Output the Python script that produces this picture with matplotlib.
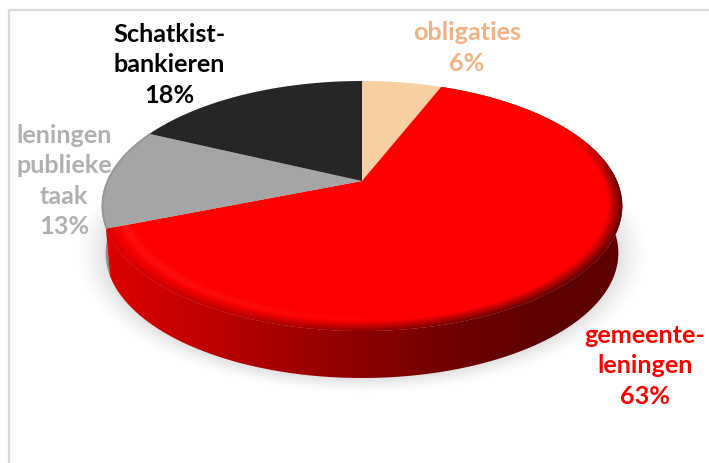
import numpy as np
import matplotlib
matplotlib.use("Agg")
import matplotlib.pyplot as plt
from matplotlib.patches import Polygon

# data
names = ["obligaties", "gemeente-\nleningen", "leningen\npublieke\ntaak", "Schatkist-\nbankieren"]
values = [6, 63, 13, 18]
colors = ["#f8cfa2", "#ff0000", "#a5a5a5", "#262626"]
label_colors = ["#f4b183", "#ff0000", "#b0b0b0", "#000000"]
label_pos = [(467, 48), (645, 366), (64, 181), (169, 65)]

# side colour of the red slice, left to right
side_x = [105, 250, 360, 470, 560, 625]
side_r = [0.87, 0.69, 0.55, 0.42, 0.36, 0.38]

# pie geometry in pixels, apex is above the ellipse centre because of perspective
cx, cy = 362, 182
A, B, k = 255, 120, 0.2
depth = 47
W, H = 709, 464


def project(theta, r=1.0):
    # theta clockwise from top
    u = r * np.sin(theta)
    v = r * np.cos(theta)
    w = 1 + k * v
    return cx + A * u / w, cy - B * v / w


def unproject(X, Y):
    dy = cy - Y
    v = dy / (B - k * dy)
    u = (X - cx) * (1 + k * v) / A
    return u, v


plt.rcParams["font.family"] = ["Lato", "DejaVu Sans"]
fig = plt.figure(figsize=(W / 100, H / 100), dpi=100)
ax = fig.add_axes([0, 0, 1, 1])
ax.set_xlim(0, W)
ax.set_ylim(H, 0)
ax.axis("off")

# chart frame
ax.plot([9, 9, W], [H, 11, 11], color="#d9d9d9", lw=1.6)

XX, YY = np.meshgrid(np.arange(W) + 0.5, np.arange(H) + 0.5)
extent = (0, W, H, 0)

# soft shadow under the pie
rr = np.sqrt(((XX - cx) / 255) ** 2 + ((YY - 254) / 125) ** 2)
shadow = np.zeros((H, W, 4))
shadow[..., :3] = 0.72
shadow[..., 3] = 0.42 * np.clip((1.12 - rr) / 0.12, 0, 1) ** 1.3
ax.imshow(shadow, extent=extent, aspect="auto", zorder=1, interpolation="bilinear")

edges = np.cumsum([0] + values) / sum(values) * 2 * np.pi

# gray side, only a thin strip shows left of the red one
gx, gy = project(np.linspace(edges[2], edges[3], 60))
gray_side = np.r_[np.c_[gx, gy], np.c_[(gx[::-1] - cx) * 0.985 + cx, gy[::-1] + depth]]
ax.add_patch(Polygon(gray_side, closed=True, fc="#8f8f8f", ec="none", zorder=2))

# red side with gradient
ang = np.linspace(edges[1], edges[2], 200)
sx, sy = project(ang)
side_poly = np.r_[np.c_[sx, sy], np.c_[(sx[::-1] - cx) * 0.985 + cx, sy[::-1] + depth]]
side_patch = Polygon(side_poly, closed=True, fc="none", ec="none", zorder=3)
ax.add_patch(side_patch)
red_level = np.interp(XX, side_x, side_r)
grad = np.zeros((H, W, 4))
grad[..., 0] = red_level
grad[..., 3] = 1
im = ax.imshow(grad, extent=extent, aspect="auto", zorder=3)
im.set_clip_path(side_patch)

# top face slices
red_patch = None
for i in range(len(values)):
    t = np.linspace(edges[i], edges[i + 1], 120)
    x, y = project(t)
    pts = np.r_[[[cx, cy]], np.c_[x, y]]
    p = Polygon(pts, closed=True, fc=colors[i], ec="none", zorder=4)
    ax.add_patch(p)
    if i == 1:
        red_patch = p

# bevel on the red slice: fades into the side colour at the rim
u, v = unproject(XX, YY)
r = np.sqrt(u ** 2 + v ** 2)
front = np.clip((0.45 - v) / 0.45, 0, 1)
bevel = np.zeros((H, W, 4))
bevel[..., 0] = red_level
bevel[..., 3] = np.clip((r - 0.945) / 0.055, 0, 1) * front
im2 = ax.imshow(bevel, extent=extent, aspect="auto", zorder=5, interpolation="bilinear")
im2.set_clip_path(red_patch)

# faint light line inside the rim on the front left
glow = np.zeros((H, W, 4))
glow[..., :3] = 1
left = np.clip((cx + 60 - XX) / 250, 0, 1)
glow[..., 3] = 0.06 * np.exp(-((r - 0.93) / 0.02) ** 2) * left * front
im3 = ax.imshow(glow, extent=extent, aspect="auto", zorder=6, interpolation="bilinear")
im3.set_clip_path(red_patch)

# darker rim of the gray slice
t = np.linspace(edges[2], edges[3], 60)
x, y = project(t, 0.997)
ax.plot(x, y, color="#8a8a8a", lw=1.5, alpha=0.5, zorder=5)

# reset limits, imshow touches them
ax.set_xlim(0, W)
ax.set_ylim(H, 0)

for name, val, col, pos in zip(names, values, label_colors, label_pos):
    ax.text(pos[0], pos[1], f"{name}\n{val}%", color=col, fontsize=18.2, fontweight="bold",
            ha="center", va="center", linespacing=1.4, zorder=10)

fig.savefig("out.png", dpi=100)
